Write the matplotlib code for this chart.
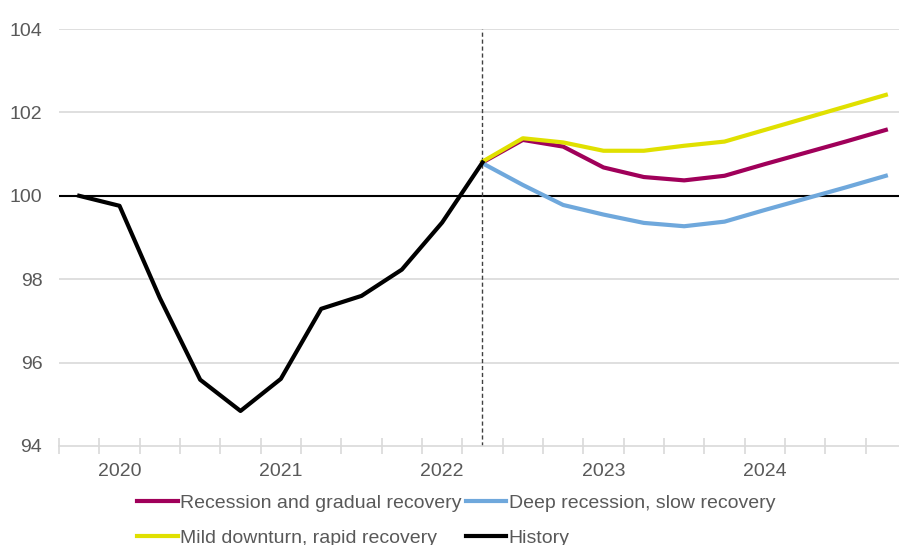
import numpy as np
import matplotlib.pyplot as plt

plt.rcParams['font.family'] = ['Liberation Sans', 'DejaVu Sans']

# quarterly index, 2019Q4 = 100
quarters = ['2019Q4',
            '2020Q1', '2020Q2', '2020Q3', '2020Q4',
            '2021Q1', '2021Q2', '2021Q3', '2021Q4',
            '2022Q1', '2022Q2', '2022Q3', '2022Q4',
            '2023Q1', '2023Q2', '2023Q3', '2023Q4',
            '2024Q1', '2024Q2', '2024Q3', '2024Q4']

history = [100.0, 99.76, 97.55, 95.59, 94.84, 95.61, 97.29, 97.6, 98.23, 99.36, 100.8]

# scenarios start at the last historical quarter (2022Q2)
recession = [100.8, 101.34, 101.18, 100.68, 100.45, 100.37, 100.48, 100.76, 101.03, 101.3, 101.58]
deep = [100.78, 100.26, 99.78, 99.55, 99.35, 99.27, 99.38, 99.66, 99.93, 100.2, 100.48]
mild = [100.82, 101.38, 101.28, 101.08, 101.08, 101.2, 101.3, 101.58, 101.86, 102.14, 102.42]

year_labels = ['2020', '2021', '2022', '2023', '2024']

grey_txt = '#595959'
grid_col = '#D9D9D9'
fs = 14

x = np.arange(len(quarters))
x_hist = x[:len(history)]
x_scen = x[len(history) - 1:]

fig = plt.figure(figsize=(8.99, 5.45), dpi=100)
ax = fig.add_axes([59 / 899, (545 - 446) / 545, (906 - 59) / 899, (446 - 29) / 545])

ax.set_ylim(94, 104)
ax.set_xlim(-0.5, len(quarters) - 0.5)

for v in [96, 98, 102, 104]:
    ax.axhline(v, color=grid_col, lw=1.2, zorder=0)
ax.axhline(100, color='black', lw=1.5, zorder=1)

ax.axvline(x[len(history) - 1], color='#404040', lw=1, ls=(0, (3, 2)), zorder=1)

ax.plot(x_scen, recession, color='#A0005A', lw=3, label='Recession and gradual recovery', zorder=3)
ax.plot(x_scen, deep, color='#6FA8DC', lw=3, label='Deep recession, slow recovery', zorder=3)
ax.plot(x_scen, mild, color='#E0E000', lw=3, label='Mild downturn, rapid recovery', zorder=4)
ax.plot(x_hist, history, color='black', lw=3, label='History', zorder=5)

for s in ['left', 'right', 'top']:
    ax.spines[s].set_visible(False)
ax.spines['bottom'].set_color(grid_col)
ax.spines['bottom'].set_linewidth(1.2)

ax.set_yticks([94, 96, 98, 100, 102, 104])
ax.tick_params(axis='y', length=0, pad=12, labelsize=fs, labelcolor=grey_txt)

# quarter boundaries as ticks, year names under each Q1
ax.set_xticks(np.arange(-0.5, len(quarters), 1.0))
ax.set_xticklabels([])
ax.tick_params(axis='x', which='major', direction='inout', length=11, width=1.2, color=grid_col)
q1_pos = [i for i, q in enumerate(quarters) if q.endswith('Q1')]
ax.set_xticks(q1_pos, minor=True)
ax.set_xticklabels(year_labels, minor=True)
ax.tick_params(axis='x', which='minor', length=0, pad=12, labelsize=fs, labelcolor=grey_txt)

h, l = ax.get_legend_handles_labels()
order = [0, 2, 1, 3]
fig.legend([h[i] for i in order], [l[i] for i in order], ncol=2, loc='upper left',
           bbox_to_anchor=(137 / 899, 1 - 494 / 545), frameon=False, fontsize=fs,
           labelcolor=grey_txt, handlelength=2.1, handletextpad=0.12, columnspacing=0.2,
           labelspacing=0.92, borderpad=0, borderaxespad=0)

fig.savefig('out.png', dpi=100)
